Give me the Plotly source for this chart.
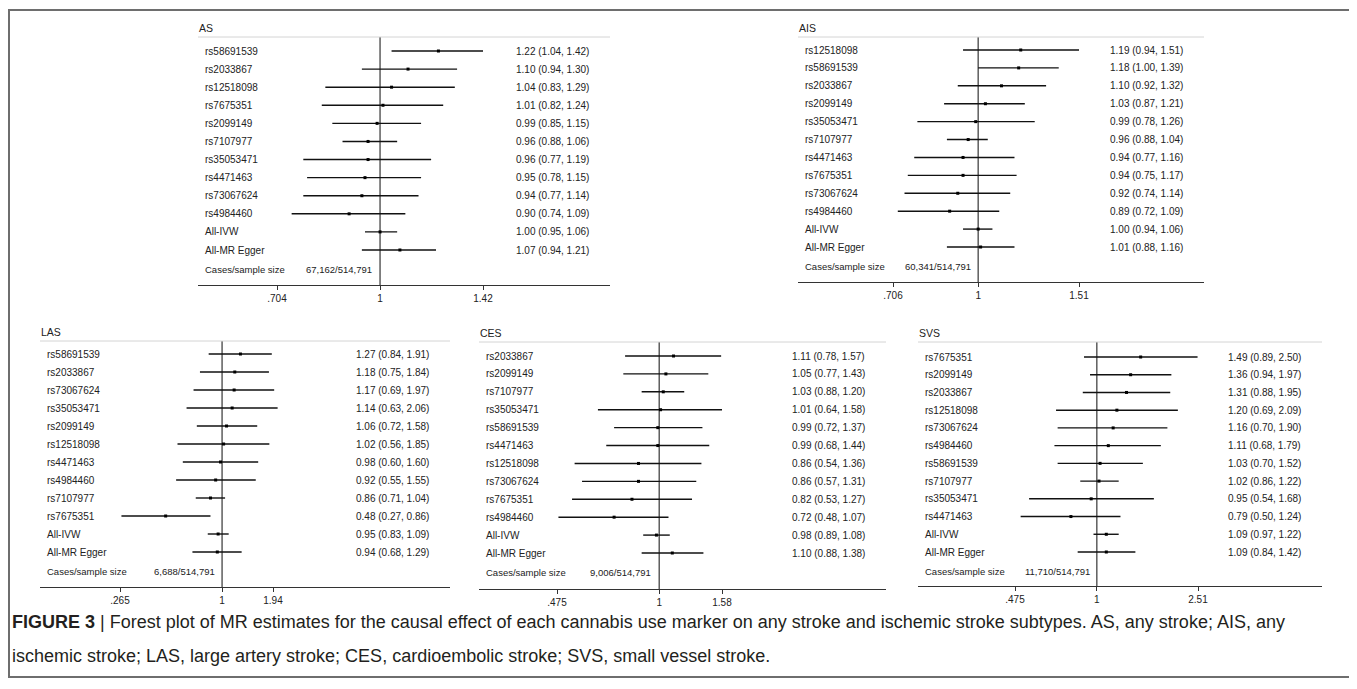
import math
import plotly.graph_objects as go

W, H = 1357, 689
OX, OY = 8, 8  # default page body margin offset


def fx(px):
    return (px - OX) / W


def fy(py):
    return 1 - (py - OY) / H


# ---------------- data ----------------
as_snps = ["rs58691539", "rs2033867", "rs12518098", "rs7675351", "rs2099149", "rs7107977",
           "rs35053471", "rs4471463", "rs73067624", "rs4984460", "All-IVW", "All-MR Egger"]
as_est = [1.22, 1.10, 1.04, 1.01, 0.99, 0.96, 0.96, 0.95, 0.94, 0.90, 1.00, 1.07]
as_lo = [1.04, 0.94, 0.83, 0.82, 0.85, 0.88, 0.77, 0.78, 0.77, 0.74, 0.95, 0.94]
as_hi = [1.42, 1.30, 1.29, 1.24, 1.15, 1.06, 1.19, 1.15, 1.14, 1.09, 1.06, 1.21]
as_cases = "67,162/514,791"
as_ticks = [0.704, 1, 1.42]
as_ticktext = [".704", "1", "1.42"]

ais_snps = ["rs12518098", "rs58691539", "rs2033867", "rs2099149", "rs35053471", "rs7107977",
            "rs4471463", "rs7675351", "rs73067624", "rs4984460", "All-IVW", "All-MR Egger"]
ais_est = [1.19, 1.18, 1.10, 1.03, 0.99, 0.96, 0.94, 0.94, 0.92, 0.89, 1.00, 1.01]
ais_lo = [0.94, 1.00, 0.92, 0.87, 0.78, 0.88, 0.77, 0.75, 0.74, 0.72, 0.94, 0.88]
ais_hi = [1.51, 1.39, 1.32, 1.21, 1.26, 1.04, 1.16, 1.17, 1.14, 1.09, 1.06, 1.16]
ais_cases = "60,341/514,791"
ais_ticks = [0.706, 1, 1.51]
ais_ticktext = [".706", "1", "1.51"]

las_snps = ["rs58691539", "rs2033867", "rs73067624", "rs35053471", "rs2099149", "rs12518098",
            "rs4471463", "rs4984460", "rs7107977", "rs7675351", "All-IVW", "All-MR Egger"]
las_est = [1.27, 1.18, 1.17, 1.14, 1.06, 1.02, 0.98, 0.92, 0.86, 0.48, 0.95, 0.94]
las_lo = [0.84, 0.75, 0.69, 0.63, 0.72, 0.56, 0.60, 0.55, 0.71, 0.27, 0.83, 0.68]
las_hi = [1.91, 1.84, 1.97, 2.06, 1.58, 1.85, 1.60, 1.55, 1.04, 0.86, 1.09, 1.29]
las_cases = "6,688/514,791"
las_ticks = [0.265, 1, 1.94]
las_ticktext = [".265", "1", "1.94"]

ces_snps = ["rs2033867", "rs2099149", "rs7107977", "rs35053471", "rs58691539", "rs4471463",
            "rs12518098", "rs73067624", "rs7675351", "rs4984460", "All-IVW", "All-MR Egger"]
ces_est = [1.11, 1.05, 1.03, 1.01, 0.99, 0.99, 0.86, 0.86, 0.82, 0.72, 0.98, 1.10]
ces_lo = [0.78, 0.77, 0.88, 0.64, 0.72, 0.68, 0.54, 0.57, 0.53, 0.48, 0.89, 0.88]
ces_hi = [1.57, 1.43, 1.20, 1.58, 1.37, 1.44, 1.36, 1.31, 1.27, 1.07, 1.08, 1.38]
ces_cases = "9,006/514,791"
ces_ticks = [0.475, 1, 1.58]
ces_ticktext = [".475", "1", "1.58"]

svs_snps = ["rs7675351", "rs2099149", "rs2033867", "rs12518098", "rs73067624", "rs4984460",
            "rs58691539", "rs7107977", "rs35053471", "rs4471463", "All-IVW", "All-MR Egger"]
svs_est = [1.49, 1.36, 1.31, 1.20, 1.16, 1.11, 1.03, 1.02, 0.95, 0.79, 1.09, 1.09]
svs_lo = [0.89, 0.94, 0.88, 0.69, 0.70, 0.68, 0.70, 0.86, 0.54, 0.50, 0.97, 0.84]
svs_hi = [2.50, 1.97, 1.95, 2.09, 1.90, 1.79, 1.52, 1.22, 1.68, 1.24, 1.22, 1.42]
svs_cases = "11,710/514,791"
svs_ticks = [0.475, 1, 2.51]
svs_ticktext = [".475", "1", "2.51"]

caption1 = ("<b>FIGURE 3</b> | Forest plot of MR estimates for the causal effect of each cannabis use "
            "marker on any stroke and ischemic stroke subtypes. AS, any stroke; AIS, any")
caption2 = "ischemic stroke; LAS, large artery stroke; CES, cardioembolic stroke; SVS, small vessel stroke."

# ---------------- layout geometry (pixels in the page) ----------------
panels = [
    dict(name="AS", snps=as_snps, est=as_est, lo=as_lo, hi=as_hi, cases=as_cases,
         ticks=as_ticks, ticktext=as_ticktext,
         left=198, right=610, top=37, axis=285, row1=51, row12=250, p1=277, p2=483, casex=101),
    dict(name="AIS", snps=ais_snps, est=ais_est, lo=ais_lo, hi=ais_hi, cases=ais_cases,
         ticks=ais_ticks, ticktext=ais_ticktext,
         left=798, right=1204, top=37, axis=282, row1=50, row12=247, p1=893, p2=1079, casex=100),
    dict(name="LAS", snps=las_snps, est=las_est, lo=las_lo, hi=las_hi, cases=las_cases,
         ticks=las_ticks, ticktext=las_ticktext,
         left=40, right=450, top=341, axis=587, row1=354, row12=552, p1=120, p2=273, casex=107),
    dict(name="CES", snps=ces_snps, est=ces_est, lo=ces_lo, hi=ces_hi, cases=ces_cases,
         ticks=ces_ticks, ticktext=ces_ticktext,
         left=479, right=886, top=342, axis=589, row1=356, row12=553, p1=557, p2=722, casex=104),
    dict(name="SVS", snps=svs_snps, est=svs_est, lo=svs_lo, hi=svs_hi, cases=svs_cases,
         ticks=svs_ticks, ticktext=svs_ticktext,
         left=918, right=1322, top=342, axis=586, row1=357, row12=552, p1=1015, p2=1198, casex=100),
]

FONT = "Liberation Sans, Arial, sans-serif"
TXT = "#222222"

fig = go.Figure()
annotations = []
shapes = []

for i, p in enumerate(panels):
    n = i + 1
    xa = "x" if n == 1 else f"x{n}"
    ya = "y" if n == 1 else f"y{n}"
    xk = "xaxis" if n == 1 else f"xaxis{n}"
    yk = "yaxis" if n == 1 else f"yaxis{n}"

    # x log scale from tick pixel positions
    l1, l2 = math.log10(p["ticks"][0]), math.log10(p["ticks"][2])
    k = (p["p2"] - p["p1"]) / (l2 - l1)
    x1px = p["p1"] - l1 * k
    xr = [(p["left"] - x1px) / k, (p["right"] - x1px) / k]

    # y rows
    ky = (p["row12"] - p["row1"]) / 11.0
    ytop = 1 - (p["row1"] - p["top"]) / ky
    ybot = 1 + (p["axis"] - p["row1"]) / ky

    fig.update_layout({
        xk: dict(domain=[fx(p["left"]), fx(p["right"])], anchor=ya, type="log", range=xr,
                 showgrid=False, zeroline=False, showline=True, linecolor="#333333", linewidth=1,
                 ticks="outside", ticklen=4, tickwidth=1, tickcolor="#333333",
                 tickvals=p["ticks"], ticktext=p["ticktext"],
                 tickfont=dict(family=FONT, size=10, color=TXT), fixedrange=True),
        yk: dict(domain=[fy(p["axis"]), fy(p["top"])], anchor=xa,
                 range=[ybot, ytop], visible=False, fixedrange=True),
    })

    rows = list(range(1, len(p["snps"]) + 1))

    # null line
    fig.add_trace(go.Scatter(x=[1, 1], y=[ytop, ybot], mode="lines",
                             line=dict(color="#444444", width=1.3),
                             xaxis=xa, yaxis=ya, showlegend=False, hoverinfo="skip"))
    # CI lines
    cx, cy = [], []
    for r, lo, hi in zip(rows, p["lo"], p["hi"]):
        cx += [lo, hi, None]
        cy += [r, r, None]
    fig.add_trace(go.Scatter(x=cx, y=cy, mode="lines", line=dict(color="#111111", width=1.4),
                             xaxis=xa, yaxis=ya, showlegend=False, hoverinfo="skip"))
    # point estimates
    fig.add_trace(go.Scatter(x=p["est"], y=rows, mode="markers",
                             marker=dict(symbol="square", size=3, color="#000000"),
                             xaxis=xa, yaxis=ya, showlegend=False))

    # title + underline
    annotations.append(dict(text=p["name"], xref="paper", yref="paper",
                            x=fx(p["left"] - 1), y=fy(p["top"] - 1),
                            xanchor="left", yanchor="bottom", showarrow=False,
                            font=dict(family=FONT, size=10.5, color=TXT)))
    shapes.append(dict(type="line", xref="paper", yref="paper",
                       x0=fx(p["left"]), x1=fx(p["right"]),
                       y0=fy(p["top"]), y1=fy(p["top"]),
                       line=dict(color="#d4d4d4", width=1)))

    lab_x = fx(p["left"] + 5)
    val_x = fx(p["right"] - 96)
    for r, s, e, lo, hi in zip(rows, p["snps"], p["est"], p["lo"], p["hi"]):
        annotations.append(dict(text=s, xref="paper", yref=ya, x=lab_x, y=r,
                                xanchor="left", yanchor="middle", showarrow=False,
                                font=dict(family=FONT, size=10, color=TXT)))
        annotations.append(dict(text=f"{e:.2f} ({lo:.2f}, {hi:.2f})", xref="paper", yref=ya,
                                x=val_x, y=r, xanchor="left", yanchor="middle", showarrow=False,
                                font=dict(family=FONT, size=10, color=TXT)))
    crow = len(rows) + 1.1
    annotations.append(dict(text="Cases/sample size", xref="paper", yref=ya, x=lab_x, y=crow,
                            xanchor="left", yanchor="middle", showarrow=False,
                            font=dict(family=FONT, size=9.5, color=TXT)))
    annotations.append(dict(text=p["cases"], xref="paper", yref=ya,
                            x=fx(p["left"] + 5 + p["casex"]), y=crow,
                            xanchor="left", yanchor="middle", showarrow=False,
                            font=dict(family=FONT, size=9.5, color=TXT)))

# caption
annotations.append(dict(text=caption1, xref="paper", yref="paper", x=fx(10), y=fy(622),
                        xanchor="left", yanchor="middle", showarrow=False,
                        font=dict(family=FONT, size=18, color="#231f20")))
annotations.append(dict(text=caption2, xref="paper", yref="paper", x=fx(10), y=fy(656),
                        xanchor="left", yanchor="middle", showarrow=False,
                        font=dict(family=FONT, size=18, color="#231f20")))

# outer frame
shapes.append(dict(type="rect", xref="paper", yref="paper",
                   x0=fx(9), x1=fx(1355), y0=fy(677), y1=fy(10),
                   line=dict(color="#6e6e6e", width=2)))

fig.update_layout(width=W, height=H, margin=dict(l=0, r=0, t=0, b=0),
                  paper_bgcolor="white", plot_bgcolor="white",
                  annotations=annotations, shapes=shapes, showlegend=False)

fig.write_html("out.html")
